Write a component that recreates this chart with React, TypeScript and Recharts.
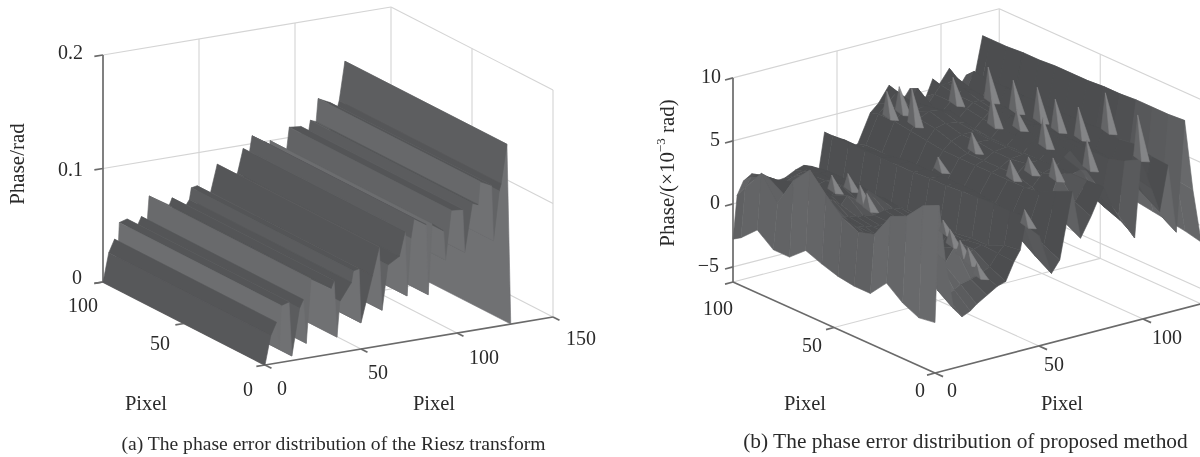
import React from 'react';
import { ComposedChart, XAxis, YAxis, Scatter, Line } from 'recharts';

// ---------- data: panel (a) ----------
const rieszPixels = [0, 3, 6, 7.5, 8.5, 12.5, 14, 18, 20, 21.5, 24, 34.5, 36, 37.5, 39, 45, 46, 49, 50, 56, 59.5, 61, 64, 70, 73, 74, 76, 77.6, 84, 85, 87, 93, 94, 97, 103, 104, 108, 111, 112, 118, 119, 122, 123, 126, 128];
const rieszPhase = [0, 0.025, 0.036, 0.012, 0.05, 0.052, 0.004, 0.045, 0.052, 0.013, 0.069, 0.058, 0.064, 0.014, 0.045, 0.06, 0.07, 0.071, 0.023, 0.063, 0.087, 0.031, 0.07, 0.076, 0.097, 0.04, 0.09, 0.107, 0.1, 0.038, 0.1, 0.092, 0.066, 0.109, 0.108, 0.07, 0.112, 0.11, 0.13, 0.125, 0.076, 0.119, 0.125, 0.159, 0];
const rieszRows = [0, 100];

// ---------- data: panel (b) ----------
const proposedPixelsX = [0, 2, 5, 9, 13, 17, 20, 25, 30, 34, 38, 41, 44, 50, 56, 60, 66, 70, 75, 81, 85, 89, 93, 96, 99, 104, 108, 112, 116, 120, 124, 128];
const proposedPixelsY = [0, 8, 16, 24, 32, 40, 48, 56, 64, 72, 80, 88, 96, 100];
const proposedPhase = [
  [-2.2, 7.0, 2.5, -1.5, -2.3, -2.0, -1.6, -1.1, -0.6, -0.4, 1.0, 1.8, 4.3, 2.6, -0.7, 0.2, 5.4, 1.5, 3.0, 5.1, 3.4, 2.1, 1.2, 0.4, 6.5, 4.0, 2.0, 5.5, 0.0, 8.7, 3.0, -1.3],
  [-2.4, 6.4, 3.0, -0.6, -1.2, -0.9, -0.6, -0.4, -0.1, 0.2, 1.1, 1.6, 4.2, 3.0, 0.1, 0.8, 4.8, 2.2, 3.6, 5.0, 3.8, 2.6, 2.2, 1.6, 5.8, 4.3, 2.8, 5.6, 0.8, 8.6, 3.2, -1.0],
  [-1.8, 5.0, 3.4, 0.9, 0.2, 0.8, 0.4, 1.6, 0.6, 1.0, 1.2, 1.0, 4.2, 3.4, 1.0, 1.4, 4.2, 3.0, 5.2, 5.0, 4.2, 3.2, 3.2, 2.8, 5.4, 4.6, 3.6, 6.0, 2.0, 8.6, 3.4, -0.8],
  [-0.8, 4.4, 2.8, 2.2, 2.4, 0.9, 2.2, 0.9, 2.0, 1.0, 1.0, 1.0, 4.1, 3.6, 2.0, 2.0, 4.0, 3.8, 4.7, 5.0, 4.4, 4.0, 4.2, 4.0, 5.4, 5.0, 4.2, 5.8, 3.8, 8.6, 3.6, -0.6],
  [-2.2, 2.4, 2.0, 1.2, 0.9, 2.0, 0.9, 1.8, 0.9, 1.0, 1.0, 0.8, 4.0, 3.8, 2.6, 2.4, 4.0, 4.2, 4.9, 4.9, 4.4, 4.0, 4.6, 5.0, 5.2, 5.0, 4.4, 6.0, 5.2, 8.5, 3.6, -0.4],
  [-2.2, 2.0, 1.8, 1.6, 1.0, 1.2, 1.0, 1.2, 1.0, 1.0, 1.0, 0.8, 3.9, 3.8, 2.7, 2.4, 4.0, 4.2, 4.7, 4.8, 4.4, 4.0, 4.6, 5.0, 5.2, 5.0, 4.4, 5.9, 5.2, 8.5, 3.6, -0.4],
  [-2.0, 2.6, 2.2, 1.6, 1.4, 1.2, 1.2, 1.2, 1.2, 1.2, 1.0, 0.8, 3.9, 3.8, 2.8, 2.4, 4.0, 4.2, 4.7, 4.8, 4.4, 4.0, 4.6, 5.0, 5.3, 5.0, 4.4, 5.9, 5.2, 8.4, 3.6, -0.4],
  [-1.6, 3.8, 3.0, 1.8, 1.6, 1.4, 1.4, 1.2, 1.4, 1.4, 1.2, 1.0, 3.8, 3.8, 2.8, 2.4, 4.0, 4.2, 4.9, 4.8, 4.4, 4.0, 4.6, 5.0, 5.2, 5.0, 4.4, 5.8, 5.2, 8.4, 3.6, -0.2],
  [-1.1, 5.2, 4.0, 2.2, 2.4, 1.8, 2.4, 1.8, 2.4, 1.8, 1.4, 0.8, 3.8, 3.8, 2.8, 2.4, 4.0, 4.6, 4.9, 4.9, 4.4, 4.0, 4.6, 5.0, 5.3, 5.0, 4.4, 5.9, 5.2, 8.4, 3.6, -0.2],
  [-2.2, 3.8, 3.6, 2.6, 1.8, 2.4, 1.8, 2.4, 1.8, 2.0, 1.2, 0.8, 3.8, 3.6, 2.6, 2.2, 4.2, 5.0, 5.2, 5.0, 4.8, 4.2, 4.8, 5.2, 5.2, 5.2, 4.4, 5.8, 5.2, 8.3, 3.6, 0],
  [-2.2, 1.4, 2.0, 2.8, 2.2, 1.0, 2.0, 2.2, 2.0, 2.0, 1.0, 0.8, 3.8, 3.4, 2.4, 2.2, 4.4, 5.2, 5.6, 5.4, 5.2, 4.4, 5.0, 5.4, 5.4, 5.2, 4.4, 5.9, 5.2, 8.3, 3.6, 0],
  [-1.2, 3.2, 2.8, 2.4, 1.2, 0.2, 1.6, 2.2, 2.0, 2.0, 1.0, 0.8, 3.8, 3.2, 2.4, 2.4, 4.6, 5.2, 5.0, 5.2, 4.8, 4.4, 5.0, 5.4, 5.8, 5.4, 4.6, 5.8, 5.4, 8.2, 3.6, 0],
  [-2.4, 1.5, 2.2, 2.2, 0.8, -0.4, 1.0, 1.4, 1.6, 1.8, 0.8, 0.8, 3.8, 3.2, 2.2, 2.4, 4.6, 5.2, 6.0, 5.0, 5.8, 4.2, 5.0, 5.6, 5.6, 5.8, 4.6, 6.0, 5.2, 8.2, 3.6, 0.2],
  [-2.8, 0.6, 1.6, 2.0, 0.4, -0.7, 0.9, 1.0, 1.4, 1.6, 0.6, 0.6, 3.8, 3.0, 2.0, 2.2, 4.4, 5.0, 6.2, 4.6, 5.5, 4.0, 4.6, 5.8, 5.2, 6.3, 4.4, 5.4, 5.0, 8.2, 3.6, 0.2],
];

// narrow light peaks standing on the ridges of panel (b)
const peakX = [112, 112, 112, 112, 112, 112, 112, 99, 99, 99, 99, 99, 75, 75, 75, 75, 70, 45, 72, 78, 84, 30, 30, 30, 30, 25, 25, 25, 25, 25];
const peakY = [89, 76.6, 64.7, 55.8, 44.4, 31, 15, 93, 74, 61.5, 48.6, 26.8, 59, 40, 31, 18.8, 70.6, 2, 98, 98, 98, 82, 74, 68, 64.6, 21.8, 18.3, 13.4, 9.4, 5];
const peakTop = [6.85, 6.7, 7, 6.7, 6.9, 9, 8.4, 6.3, 6.1, 6, 6.3, 6.1, 5.4, 4.6, 5.5, 6.3, 2.85, 4.7, 6, 6.1, 5.7, 2.3, 3, 2.5, 2.1, 3.3, 2.8, 2.3, 2, 1.1];
const peakDrop = [2.6, 2.4, 2.6, 2.4, 2.4, 3, 3.4, 2, 2.2, 1.4, 2.2, 2.2, 1.4, 1.4, 1.2, 1.6, 1, 1.2, 2, 2, 2.8, 1.2, 1.2, 1.4, 1.2, 1, 1.2, 1.2, 1.2, 1];

// ---------- tick labels ----------
const aXTicks = [0, 50, 100, 150];
const aYTicks = [0, 50, 100];
const aZTicks = [0, 0.1, 0.2];
const bXTicks = [0, 50, 100];
const bYTicks = [0, 50, 100];
const bZTicks = [-5, 0, 5, 10];

const FONT = '"Liberation Serif", serif';
const TEXT = '#2a2a2a';
const GRID = '#d4d4d4';
const AXIS = '#6a6a6a';

type P3 = (x: number, y: number, z: number) => [number, number];
type Box = { xMax: number; yMax: number; zMin: number; zMax: number };
type Shade = { base: number; a: number; ex: number; b: number; t: number; w: number };

const projA: P3 = (x, y, z) => [265 + 1.92 * x - 1.62 * y, 365 - 0.32 * x - 0.83 * y - 1135 * z];
const projB: P3 = (x, y, z) => [335 + 2.08 * x - 2.02 * y, 373 - 0.54 * x - 0.91 * y - 12.6 * (z + 6.2)];

function poly(c: number[][], g: number) {
  return {
    sx: c[0][0], sy: c[0][1],
    rel: c.map(([u, v]) => [u - c[0][0], v - c[0][1]]),
    fill: `rgb(${g},${g + 1},${g + 3})`,
  };
}

function facets(xs: number[], ys: number[], zz: number[][], proj: P3, s: Shade, zScale: number, pxX: number, pxY: number) {
  const out: any[] = [];
  for (let j = ys.length - 2; j >= 0; j--) {
    for (let i = xs.length - 2; i >= 0; i--) {
      const z00 = zz[j][i], z10 = zz[j][i + 1], z01 = zz[j + 1][i], z11 = zz[j + 1][i + 1];
      const c = [proj(xs[i], ys[j], z00), proj(xs[i + 1], ys[j], z10), proj(xs[i + 1], ys[j + 1], z11), proj(xs[i], ys[j + 1], z01)];
      const zx = ((z10 + z11 - z00 - z01) / 2 / (xs[i + 1] - xs[i])) * zScale / pxX;
      const zy = ((z01 + z11 - z00 - z10) / 2 / (ys[j + 1] - ys[j])) * zScale / pxY;
      const nx = Math.abs(zx) / Math.sqrt(1 + zx * zx);
      const damp = Math.sqrt(1 + (zx * zx) / 36);
      const lift = Math.max(0, Math.min(1, (Math.abs(zy) / damp - s.t) / s.w));
      const ex = zx < 0 ? s.ex / 8 : s.ex;
      out.push(poly(c, Math.min(175, Math.round(s.base + s.a * Math.pow(nx, ex) + s.b * lift))));
    }
  }
  return out;
}

function peaks(proj: P3) {
  const out: any[] = [];
  peakX.forEach((x, i) => {
    const y = peakY[i], top = peakTop[i], low = top - peakDrop[i];
    const tip = proj(x, y, top);
    const lo = proj(x, y + 2, low);
    const mid = proj(x + 0.4, y - 1.5, low - 0.2);
    const hi = proj(x + 0.8, y - 5, low);
    out.push(poly([tip, lo, mid], 100), poly([tip, mid, hi], 132));
  });
  return out;
}

const Facet = (props: any) => {
  const { cx, cy, payload } = props;
  const pts = payload.rel.map(([u, v]: number[]) => `${cx + u},${cy + v}`).join(' ');
  return <polygon points={pts} fill={payload.fill} stroke={payload.fill} strokeWidth={0.6} strokeLinejoin="round" />;
};

const Label = (props: any) => {
  const { cx, cy, payload } = props;
  return (
    <text x={cx} y={cy} textAnchor={payload.anchor || 'middle'} dominantBaseline="central" fontFamily={FONT} fontSize={payload.size || 20} fill={TEXT}
      transform={payload.rotate ? `rotate(-90 ${cx} ${cy})` : undefined}>
      {payload.label}
      {payload.sup ? <tspan dy={-7} fontSize={13}>{payload.sup}</tspan> : null}
      {payload.tail ? <tspan dy={7}>{payload.tail}</tspan> : null}
    </text>
  );
};

function seg(proj: P3, a: number[], b: number[]) {
  const [x1, y1] = proj(a[0], a[1], a[2]);
  const [x2, y2] = proj(b[0], b[1], b[2]);
  return [{ sx: x1, sy: y1 }, { sx: x2, sy: y2 }];
}

function wire(proj: P3, box: Box, xTicks: number[], yTicks: number[], zTicks: number[]) {
  const { xMax, yMax, zMin, zMax } = box;
  const grid: any[][] = [];
  const axis: any[][] = [];
  grid.push(seg(proj, [0, yMax, zMin], [xMax, yMax, zMin]), seg(proj, [xMax, yMax, zMin], [xMax, 0, zMin]));
  grid.push(seg(proj, [0, yMax, zMax], [xMax, yMax, zMax]), seg(proj, [xMax, yMax, zMax], [xMax, 0, zMax]));
  grid.push(seg(proj, [xMax, yMax, zMin], [xMax, yMax, zMax]), seg(proj, [xMax, 0, zMin], [xMax, 0, zMax]));
  xTicks.filter((t) => t > 0 && t < xMax).forEach((t) => {
    grid.push(seg(proj, [t, 0, zMin], [t, yMax, zMin]), seg(proj, [t, yMax, zMin], [t, yMax, zMax]));
  });
  yTicks.filter((t) => t > 0 && t < yMax).forEach((t) => {
    grid.push(seg(proj, [0, t, zMin], [xMax, t, zMin]), seg(proj, [xMax, t, zMin], [xMax, t, zMax]));
  });
  zTicks.filter((t) => t > zMin && t < zMax).forEach((t) => {
    grid.push(seg(proj, [0, yMax, t], [xMax, yMax, t]), seg(proj, [xMax, yMax, t], [xMax, 0, t]));
  });
  axis.push(seg(proj, [0, 0, zMin], [0, yMax, zMin]), seg(proj, [0, 0, zMin], [xMax, 0, zMin]), seg(proj, [0, yMax, zMin], [0, yMax, zMax]));
  const xl = xMax * 0.03, yl = yMax * 0.04;
  xTicks.forEach((t) => axis.push(seg(proj, [t, 0, zMin], [t, -yl, zMin])));
  yTicks.forEach((t) => axis.push(seg(proj, [0, t, zMin], [-xl, t, zMin])));
  zTicks.forEach((t) => axis.push(seg(proj, [0, yMax, t], [-xl, yMax, t])));
  return { grid, axis };
}

function Panel({ fs, w, labels }: { fs: any[]; w: { grid: any[][]; axis: any[][] }; labels: any[] }) {
  return (
    <ComposedChart width={600} height={457} margin={{ top: 0, right: 0, bottom: 0, left: 0 }}>
      <XAxis type="number" dataKey="sx" domain={[0, 600]} hide allowDataOverflow />
      <YAxis type="number" dataKey="sy" domain={[0, 457]} reversed hide allowDataOverflow />
      {w.grid.map((d, i) => (
        <Line key={'g' + i} data={d} dataKey="sy" stroke={GRID} strokeWidth={1.1} dot={false} isAnimationActive={false} legendType="none" />
      ))}
      {w.axis.map((d, i) => (
        <Line key={'a' + i} data={d} dataKey="sy" stroke={AXIS} strokeWidth={1.7} dot={false} isAnimationActive={false} legendType="none" />
      ))}
      <Scatter data={fs} dataKey="sy" shape={Facet} isAnimationActive={false} legendType="none" />
      <Scatter data={labels} dataKey="sy" shape={Label} isAnimationActive={false} legendType="none" />
    </ComposedChart>
  );
}

const boxA: Box = { xMax: 150, yMax: 100, zMin: 0, zMax: 0.2 };
const boxB: Box = { xMax: 128, yMax: 100, zMin: -6.2, zMax: 10 };

const facetsA = facets(rieszPixels, rieszRows, rieszRows.map(() => rieszPhase), projA, { base: 84, a: 28, ex: 100, b: 0, t: 1, w: 1 }, 1135, 1.95, 1.82);
const facetsB = [
  ...facets(proposedPixelsX, proposedPixelsY, proposedPhase, projB, { base: 76, a: 34, ex: 200, b: 40, t: 0.3, w: 1.2 }, 12.6, 2.15, 2.2),
  ...peaks(projB),
];

function tickLabels(proj: P3, vals: number[], at: (v: number) => number[], off: number[][], anchor: string, fmt: (v: number) => string) {
  return vals.map((v, i) => {
    const c = at(v);
    const [u, w] = proj(c[0], c[1], c[2]);
    return { sx: u + off[i][0], sy: w + off[i][1], label: fmt(v), anchor };
  });
}

const labelsA = [
  ...tickLabels(projA, aXTicks, (v) => [v, 0, 0], [[12, 23], [7, 23], [12, 24], [13, 21]], 'start', String),
  ...tickLabels(projA, aYTicks, (v) => [0, v, 0], [[-12, 24], [-14, 19], [-5, 23]], 'end', String),
  ...tickLabels(projA, aZTicks, (v) => [0, 100, v], [[-21, -5], [-20, 0], [-20, -3]], 'end', (v) => (v === 0 ? '0' : v.toFixed(1))),
  { sx: 146, sy: 403, label: 'Pixel', size: 20.5 },
  { sx: 434, sy: 403, label: 'Pixel', size: 20.5 },
  { sx: 17, sy: 164, label: 'Phase/rad', rotate: true, size: 21 },
  { sx: 333.5, sy: 443, label: '(a) The phase error distribution of the Riesz transform', size: 19.6 },
];
const labelsB = [
  ...tickLabels(projB, bXTicks, (v) => [v, 0, -6.2], [[12, 17], [5, 18], [9, 18]], 'start', String),
  ...tickLabels(projB, bYTicks, (v) => [0, v, -6.2], [[-10, 17], [-12, 17], [0, 26]], 'end', String),
  ...tickLabels(projB, bZTicks, (v) => [0, 100, v], [[-14, -2], [-13, -2], [-13, -2], [-12, -2]], 'end', (v) => (v < 0 ? '\u2212' + Math.abs(v) : String(v))),
  { sx: 205, sy: 403, label: 'Pixel', size: 20.5 },
  { sx: 462, sy: 403, label: 'Pixel', size: 20.5 },
  { sx: 67, sy: 173, label: 'Phase/(\u00d710', sup: '\u22123', tail: ' rad)', rotate: true, size: 21 },
  { sx: 365.5, sy: 441, label: '(b) The phase error distribution of proposed method', size: 21.4 },
];

const wireA = wire(projA, boxA, aXTicks, aYTicks, aZTicks);
const wireB = wire(projB, boxB, bXTicks, bYTicks, bZTicks);

export default function App() {
  return (
    <div style={{ position: 'absolute', left: 0, top: 0, width: 1200, height: 457, background: '#fff', overflow: 'hidden', filter: 'blur(0.45px)' }}>
      <div style={{ position: 'absolute', left: 0, top: 0 }}>
        <Panel fs={facetsA} w={wireA} labels={labelsA} />
      </div>
      <div style={{ position: 'absolute', left: 600, top: 0 }}>
        <Panel fs={facetsB} w={wireB} labels={labelsB} />
      </div>
    </div>
  );
}
